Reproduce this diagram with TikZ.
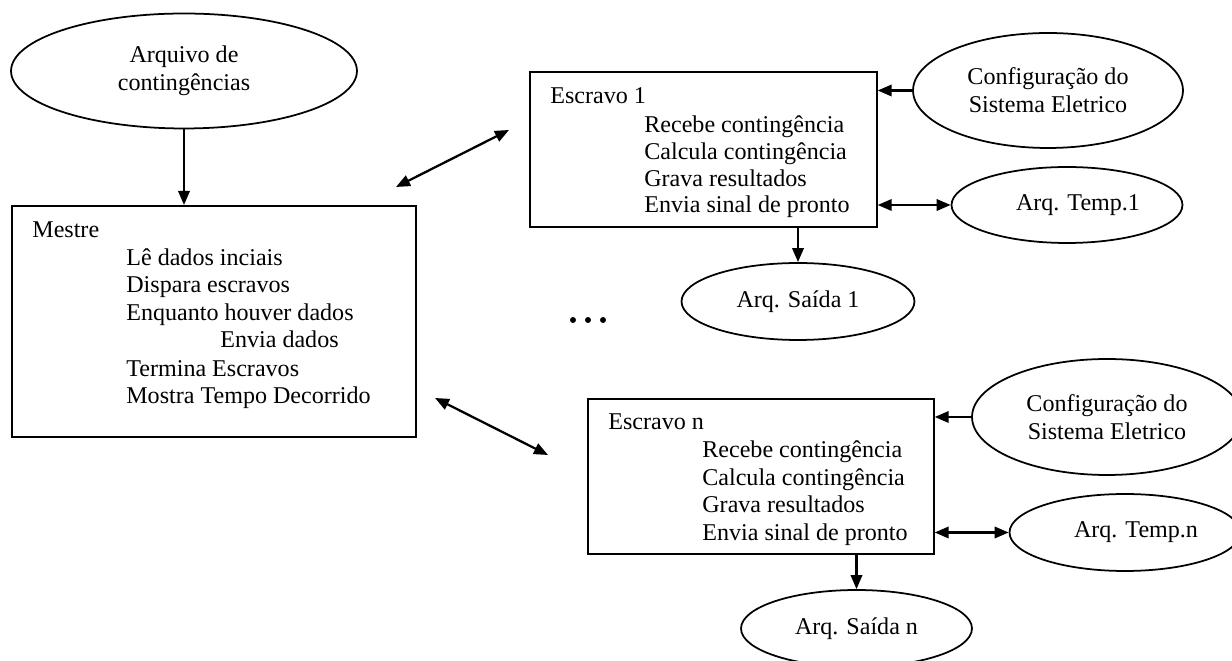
\documentclass[tikz,border=0pt]{standalone}
\usepackage{fontspec}
\setmainfont{Liberation Serif}
\usetikzlibrary{shapes.geometric,arrows.meta}
\begin{document}
\begin{tikzpicture}[x=0.02cm,y=-0.02cm,
  box/.style={draw,line width=1pt,inner sep=0,anchor=north west},
  oval/.style={draw,ellipse,line width=1pt,inner sep=0,align=center,font=\fontsize{13.7}{15.8}\selectfont},
  txt/.style={anchor=base west,inner sep=0,font=\fontsize{13.7}{15}\selectfont},
  conn/.style={line width=1.3pt,-{Triangle[length=8pt,width=6.5pt]}},
  dconn/.style={line width=1.3pt,{Triangle[length=8pt,width=6.5pt]}-{Triangle[length=8pt,width=6.5pt]}},
  dot/.style={circle,fill,inner sep=0,minimum size=3.4pt}]
\useasboundingbox (0,0) rectangle (1232,661);

% Mestre text
\node[txt] (mtitle) at (32,238) {Mestre};
\node[txt] (mle) at (126,266) {\mbox{L\^{e}} dados inciais};
\node[txt] (mdisp) at (126,293) {Dispara escravos};
\node[txt] (menq) at (126,321) {Enquanto houver dados};
\node[txt] (menv) at (220,348) {Envia dados};
\node[txt] (mterm) at (126,377) {Termina Escravos};
\node[txt] (mmost) at (126,404) {Mostra Tempo Decorrido};

% Escravo 1 text
\node[txt] (e10) at (550,104) {Escravo 1};
\node[txt] (e11) at (644,133) {Recebe contingência};
\node[txt] (e12) at (644,160) {Calcula contingência};
\node[txt] (e13) at (644,187) {Grava resultados};
\node[txt] (e14) at (644,213) {Envia sinal de pronto};

% Escravo n text
\node[txt] (en0) at (608,430) {Escravo n};
\node[txt] (en1) at (702,458) {Recebe contingência};
\node[txt] (en2) at (702,486) {Calcula contingência};
\node[txt] (en3) at (702,513) {Grava resultados};
\node[txt] (en4) at (702,541) {Envia sinal de pronto};

% boxes
\node[box,minimum width=8.08cm,minimum height=4.62cm] (mestre) at (11,205) {};
\node[box,minimum width=6.94cm,minimum height=3.1cm] (esc1) at (529,71) {};
\node[box,minimum width=6.92cm,minimum height=3.1cm] (escn) at (587,398) {};

% ellipses
\node[oval,minimum width=6.92cm,minimum height=2.3cm] (arq) at (184,71) {Arquivo de\\contingências};
\node[oval,minimum width=5.4cm,minimum height=2.3cm] (cfg1) at (1048,90.5) {Configuração do\\Sistema Eletrico};
\node[oval,minimum width=4.62cm,minimum height=1.52cm] (temp1) at (1067,205) {\hspace*{0.44cm}Arq. Temp.1};
\node[oval,minimum width=4.66cm,minimum height=1.54cm] (saida1) at (798,301.5) {Arq. Saída 1};
\node[oval,minimum width=5.4cm,minimum height=2.32cm] (cfgn) at (1107,417) {Configuração do\\Sistema Eletrico};
\node[oval,minimum width=4.62cm,minimum height=1.54cm] (tempn) at (1125,532.5) {\hspace*{0.44cm}Arq. Temp.n};
\node[oval,minimum width=4.62cm,minimum height=1.54cm] (saidan) at (856.5,628.5) {Arq. Saída n};

% dots
\node[dot] (d1) at (573,320) {};
\node[dot] (d2) at (588,320) {};
\node[dot] (d3) at (603,320) {};

% connectors
\draw[conn] (arq.south) -- (arq.south |- mestre.north);
\draw[conn] (cfg1.west) -- (cfg1.west -| esc1.east);
\draw[dconn] (temp1.west) -- (temp1.west -| esc1.east);
\draw[conn] (saida1.north |- esc1.south) -- (saida1.north);
\draw[conn] (cfgn.west) -- (cfgn.west -| escn.east);
\draw[dconn] (tempn.west) -- (tempn.west -| escn.east);
\draw[conn] (saidan.north |- escn.south) -- (saidan.north);

\coordinate (ma1) at (396,187);
\coordinate (mb1) at (509,130);
\coordinate (man) at (435,398);
\coordinate (mbn) at (548,455);
\draw[dconn] (ma1) -- (mb1);
\draw[dconn] (man) -- (mbn);
\end{tikzpicture}
\end{document}
